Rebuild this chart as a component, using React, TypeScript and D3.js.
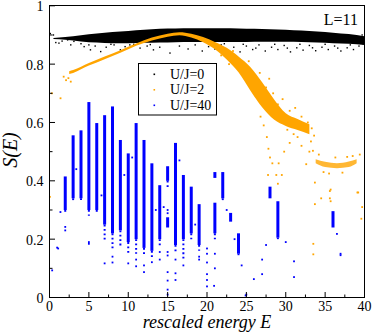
import React from 'react';
import * as d3 from 'd3';

// U/J=0 : dense band (energy, upper and lower edge) plus loose points
const blackBandE = [0.5, 2, 4, 6, 8, 10, 12, 14, 16, 18, 20, 22, 24, 26, 28, 30, 32, 34, 36, 38, 40];
const blackBandTop = [0.89, 0.893, 0.899, 0.905, 0.91, 0.914, 0.918, 0.921, 0.922, 0.923, 0.923, 0.923, 0.922, 0.921, 0.92, 0.918, 0.915, 0.912, 0.908, 0.903, 0.896];
const blackBandLow = [0.886, 0.884, 0.878, 0.874, 0.872, 0.872, 0.873, 0.874, 0.875, 0.876, 0.876, 0.876, 0.876, 0.877, 0.877, 0.877, 0.876, 0.874, 0.872, 0.87, 0.866];
const blackPts: [number, number][] = [
  [0.1, 0.905], [0.5, 0.9], [0.8, 0.874], [1.2, 0.872], [1.6, 0.879], [2.3, 0.883], [2.7, 0.866], [3.1, 0.878],
  [4.0, 0.87], [4.4, 0.86], [5.0, 0.866], [5.2, 0.849], [5.8, 0.862], [6.5, 0.843], [7.2, 0.858], [7.8, 0.868],
  [8.2, 0.866], [9.0, 0.849], [9.6, 0.86], [10.2, 0.866], [10.7, 0.868], [11.5, 0.855], [12.4, 0.862], [12.8, 0.867],
  [13.2, 0.849], [14.0, 0.858], [15.3, 0.838], [16.5, 0.862], [17.6, 0.852], [18.5, 0.866], [19.4, 0.845], [20.2, 0.86],
  [20.6, 0.868], [21.0, 0.852], [21.8, 0.866], [22.2, 0.87], [22.6, 0.848], [23.4, 0.858], [24.2, 0.842], [24.6, 0.868],
  [25.0, 0.862], [25.8, 0.85], [26.2, 0.855], [26.6, 0.866], [27.4, 0.845], [28.2, 0.858], [28.6, 0.868], [29.0, 0.85],
  [29.8, 0.864], [30.2, 0.855], [30.6, 0.842], [31.4, 0.856], [31.8, 0.868], [32.2, 0.848], [33.0, 0.864], [33.4, 0.856],
  [33.8, 0.846], [34.6, 0.858], [35.0, 0.868], [35.4, 0.85], [36.2, 0.862], [36.6, 0.855], [37.0, 0.845], [37.8, 0.856],
  [38.2, 0.866], [38.6, 0.85], [39.3, 0.862], [39.7, 0.9], [39.8, 0.87],
];

// U/J=2
const orangeBandE = [2.5, 3, 5, 7, 9, 10, 11, 13, 15, 16.5, 18, 19.5, 21, 22.5, 24, 25.5, 27, 28.5, 30, 31.5, 33];
const orangeBandTop = [0.776, 0.78, 0.804, 0.826, 0.848, 0.86, 0.871, 0.891, 0.904, 0.909, 0.904, 0.893, 0.876, 0.856, 0.826, 0.79, 0.738, 0.68, 0.632, 0.612, 0.594];
const orangeBandLow = [0.766, 0.77, 0.795, 0.817, 0.839, 0.851, 0.863, 0.881, 0.894, 0.899, 0.891, 0.875, 0.851, 0.816, 0.772, 0.71, 0.652, 0.61, 0.588, 0.574, 0.56];
const orangeTailE = [33.8, 35, 36.5, 38, 39];
const orangeTailTop = [0.474, 0.465, 0.46, 0.466, 0.474];
const orangeTailLow = [0.46, 0.447, 0.443, 0.447, 0.46];
const orangePts: [number, number][] = [
  [0.05, 0.345], [0.3, 0.7], [1.4, 0.683], [1.8, 0.757], [2.1, 0.745], [2.4, 0.752], [2.7, 0.74],
  [21.8, 0.83], [22.8, 0.8], [23.3, 0.845], [24.5, 0.8], [24.8, 0.75], [25.3, 0.81], [26.0, 0.762], [26.2, 0.69],
  [26.7, 0.77], [27.5, 0.72], [27.9, 0.75], [28.4, 0.7], [29.0, 0.662], [29.6, 0.68], [30.5, 0.64], [31.2, 0.65],
  [32.0, 0.62], [32.8, 0.6], [33.3, 0.58], [33.6, 0.555], [33.2, 0.535],
  [26.8, 0.62], [27.2, 0.59], [27.6, 0.55], [27.8, 0.51], [28.0, 0.48], [28.3, 0.46], [27.75, 0.42], [28.8, 0.42],
  [29.0, 0.39], [29.1, 0.46], [29.5, 0.42], [29.8, 0.5], [30.5, 0.53], [31.0, 0.56], [31.5, 0.55], [32.0, 0.52],
  [32.4, 0.585], [30.2, 0.575], [32.6, 0.457], [33.0, 0.5], [33.45, 0.503], [33.7, 0.394], [33.7, 0.32],
  [33.5, 0.184], [33.5, 0.148], [34.5, 0.34], [35.6, 0.365], [35.6, 0.34], [35.7, 0.37], [35.7, 0.33],
  [34.2, 0.49], [34.8, 0.43], [35.5, 0.425], [36.3, 0.48], [37.2, 0.428], [37.8, 0.482], [38.5, 0.485], [39.4, 0.49],
  [39.1, 0.36], [39.2, 0.36], [39.7, 0.31], [39.6, 0.27],
];

// U/J=40 : vertical stripes [energy, dense low, dense high, sparse tail down to]
const blueStripes: [number, number, number, number][] = [
  [2, 0.3, 0.415, 0.29], [3, 0.34, 0.556, 0.33], [4, 0.34, 0.573, 0.33], [5, 0.3, 0.67, 0.28],
  [6, 0.3, 0.598, 0.29], [7, 0.25, 0.625, 0.19], [8, 0.22, 0.655, 0.16], [9, 0.23, 0.54, 0.17],
  [10, 0.19, 0.494, 0.15], [11, 0.2, 0.598, 0.15], [12, 0.17, 0.54, 0.14], [13, 0.16, 0.46, 0.13],
  [14, 0.2, 0.385, 0.17], [15, 0.4, 0.45, 0.37], [15, 0.24, 0.275, 0.24], [16, 0.18, 0.53, 0.15],
  [17, 0.2, 0.42, 0.13], [18, 0.22, 0.38, 0.2], [19, 0.18, 0.32, 0.16], [21, 0.41, 0.43, 0.41],
  [21, 0.22, 0.325, 0.2], [22, 0.34, 0.43, 0.33], [23, 0.26, 0.29, 0.26], [24, 0.15, 0.22, 0.145],
  [28, 0.34, 0.38, 0.34], [29, 0.205, 0.33, 0.2], [36, 0.24, 0.296, 0.24],
];
const bluePts: [number, number][] = [
  [0.34, 0.093], [0.97, 0.171], [1.1, 0.168], [1.39, 0.293], [2, 0.242], [2, 0.23], [3.4, 0.44], [5, 0.19],
  [5, 0.184], [6.6, 0.35], [7, 0.117], [8, 0.14], [8, 0.12], [9.5, 0.42], [10, 0.117], [10.5, 0.48], [11, 0.107],
  [11, 0.13], [12, 0.087], [12, 0.11], [13, 0.121], [13.5, 0.3], [14, 0.156], [14, 0.13], [14.5, 0.31], [15, 0.3],
  [15, 0.289], [15, 0.156], [15, 0.144], [15, 0.087], [15, 0.058], [15, 0.027], [15, 0.01], [16, 0.13], [16, 0.083],
  [16, 0.06], [16.5, 0.47], [17, 0.11], [18.5, 0.25], [19, 0.14], [19, 0.13], [20, 0.168], [20, 0.15], [20, 0.12],
  [20, 0.08], [20, 0.06], [20, 0.038], [21, 0.15], [21, 0.1], [20.9, 0.04], [22.5, 0.3], [23.5, 0.2], [24.4, 0.11],
  [25, 0.01], [25.95, 0.063], [27, 0.13], [27, 0.08], [27.5, 0.18], [30, 0.19], [31.05, 0.124], [31.05, 0.07],
  [36.5, 0.218], [36.96, 0.15], [36.96, 0.145], [24.9, 0.007],
];

const legendLabels = ['U/J=0', 'U/J=2', 'U/J=40'];
const colors = ['#000000', '#ffa500', '#0000ff'];
const xMajor = [0, 5, 10, 15, 20, 25, 30, 35, 40];
const yMajor = [0, 0.2, 0.4, 0.6, 0.8, 1];

const serif = { fontFamily: '"Liberation Serif", "Times New Roman", serif' };

export default function App() {
  const x = d3.scaleLinear().domain([0, 40]).range([49.5, 364.5]);
  const y = d3.scaleLinear().domain([0, 1]).range([297.5, 5.8]);

  const band = (E: number[], top: number[], low: number[]) =>
    d3
      .area<number>()
      .x((_, i) => x(E[i]))
      .y0((_, i) => y(low[i]))
      .y1((_, i) => y(top[i]))
      .curve(d3.curveMonotoneX)(E) as string;

  const xMinor = d3.range(2.5, 40, 5);
  const yMinor = d3.range(0.1, 1, 0.2);
  const halfW = x(0.19) - x(0);

  const dot = (p: [number, number], i: number, c: string, s: number) => (
    <rect key={i} x={x(p[0]) - s / 2} y={y(p[1]) - s / 2} width={s} height={s} fill={c} />
  );

  return (
    <svg width={374} height={334} style={{ position: 'absolute', left: 0, top: 0 }}>
      <rect width={374} height={334} fill="#fff" />

      {/* U/J=0 */}
      <path d={band(blackBandE, blackBandTop, blackBandLow)} fill={colors[0]} />
      {blackPts.map((p, i) => dot(p, i, colors[0], 1.4))}

      {/* U/J=2 */}
      <path d={band(orangeBandE, orangeBandTop, orangeBandLow)} fill={colors[1]} />
      <path d={band(orangeTailE, orangeTailTop, orangeTailLow)} fill={colors[1]} opacity={0.8} />
      {orangePts.map((p, i) => dot(p, i, colors[1], 1.8))}

      {/* U/J=40 */}
      {blueStripes.map((s, i) => (
        <g key={i}>
          <rect x={x(s[0]) - halfW} width={halfW * 2} y={y(s[2])} height={y(s[1]) - y(s[2])} fill={colors[2]} />
          {s[3] < s[1] && (
            <line x1={x(s[0])} x2={x(s[0])} y1={y(s[1])} y2={y(s[3])} stroke={colors[2]} strokeWidth={2} strokeDasharray="1.8 2.6" />
          )}
        </g>
      ))}
      {bluePts.map((p, i) => dot(p, i, colors[2], 1.8))}

      {/* frame */}
      <rect x={49.5} y={5.5} width={315} height={292} fill="none" stroke="#000" strokeWidth={1} />

      {/* x ticks */}
      {xMajor.map((t) => (
        <g key={t}>
          <line x1={x(t)} x2={x(t)} y1={297.5} y2={292} stroke="#000" />
          <text x={x(t)} y={310.5} textAnchor="middle" fontSize={14} style={serif}>{t}</text>
        </g>
      ))}
      {xMinor.map((t) => (
        <line key={t} x1={x(t)} x2={x(t)} y1={297.5} y2={294.5} stroke="#000" />
      ))}

      {/* y ticks */}
      {yMajor.map((t) => (
        <g key={t}>
          <line x1={49.5} x2={55} y1={y(t)} y2={y(t)} stroke="#000" />
          <text x={43.5} y={y(t) + 5.5} textAnchor="end" fontSize={14} style={serif}>{t === 0 || t === 1 ? t : t.toFixed(1)}</text>
        </g>
      ))}
      {yMinor.map((t) => (
        <line key={t} x1={49.5} x2={52.5} y1={y(t)} y2={y(t)} stroke="#000" />
      ))}

      {/* axis titles */}
      <text x={207} y={328} textAnchor="middle" fontSize={18} fontStyle="italic" style={serif}>rescaled energy E</text>
      <text transform="translate(17,150) rotate(-90)" textAnchor="middle" fontSize={20} fontStyle="italic" style={serif}>S(E)</text>

      <text x={358} y={24.5} textAnchor="end" fontSize={16} style={serif}>L=11</text>

      {/* legend */}
      <rect x={138.5} y={63.5} width={78} height={51.5} fill="#fff" stroke="#000" />
      {legendLabels.map((l, i) => (
        <g key={l}>
          <rect x={153.5} y={73.5 + i * 15.5} width={1.6} height={1.6} fill={colors[i]} />
          <text x={170} y={78.5 + i * 15.5} fontSize={14} style={serif}>{l}</text>
        </g>
      ))}
    </svg>
  );
}
